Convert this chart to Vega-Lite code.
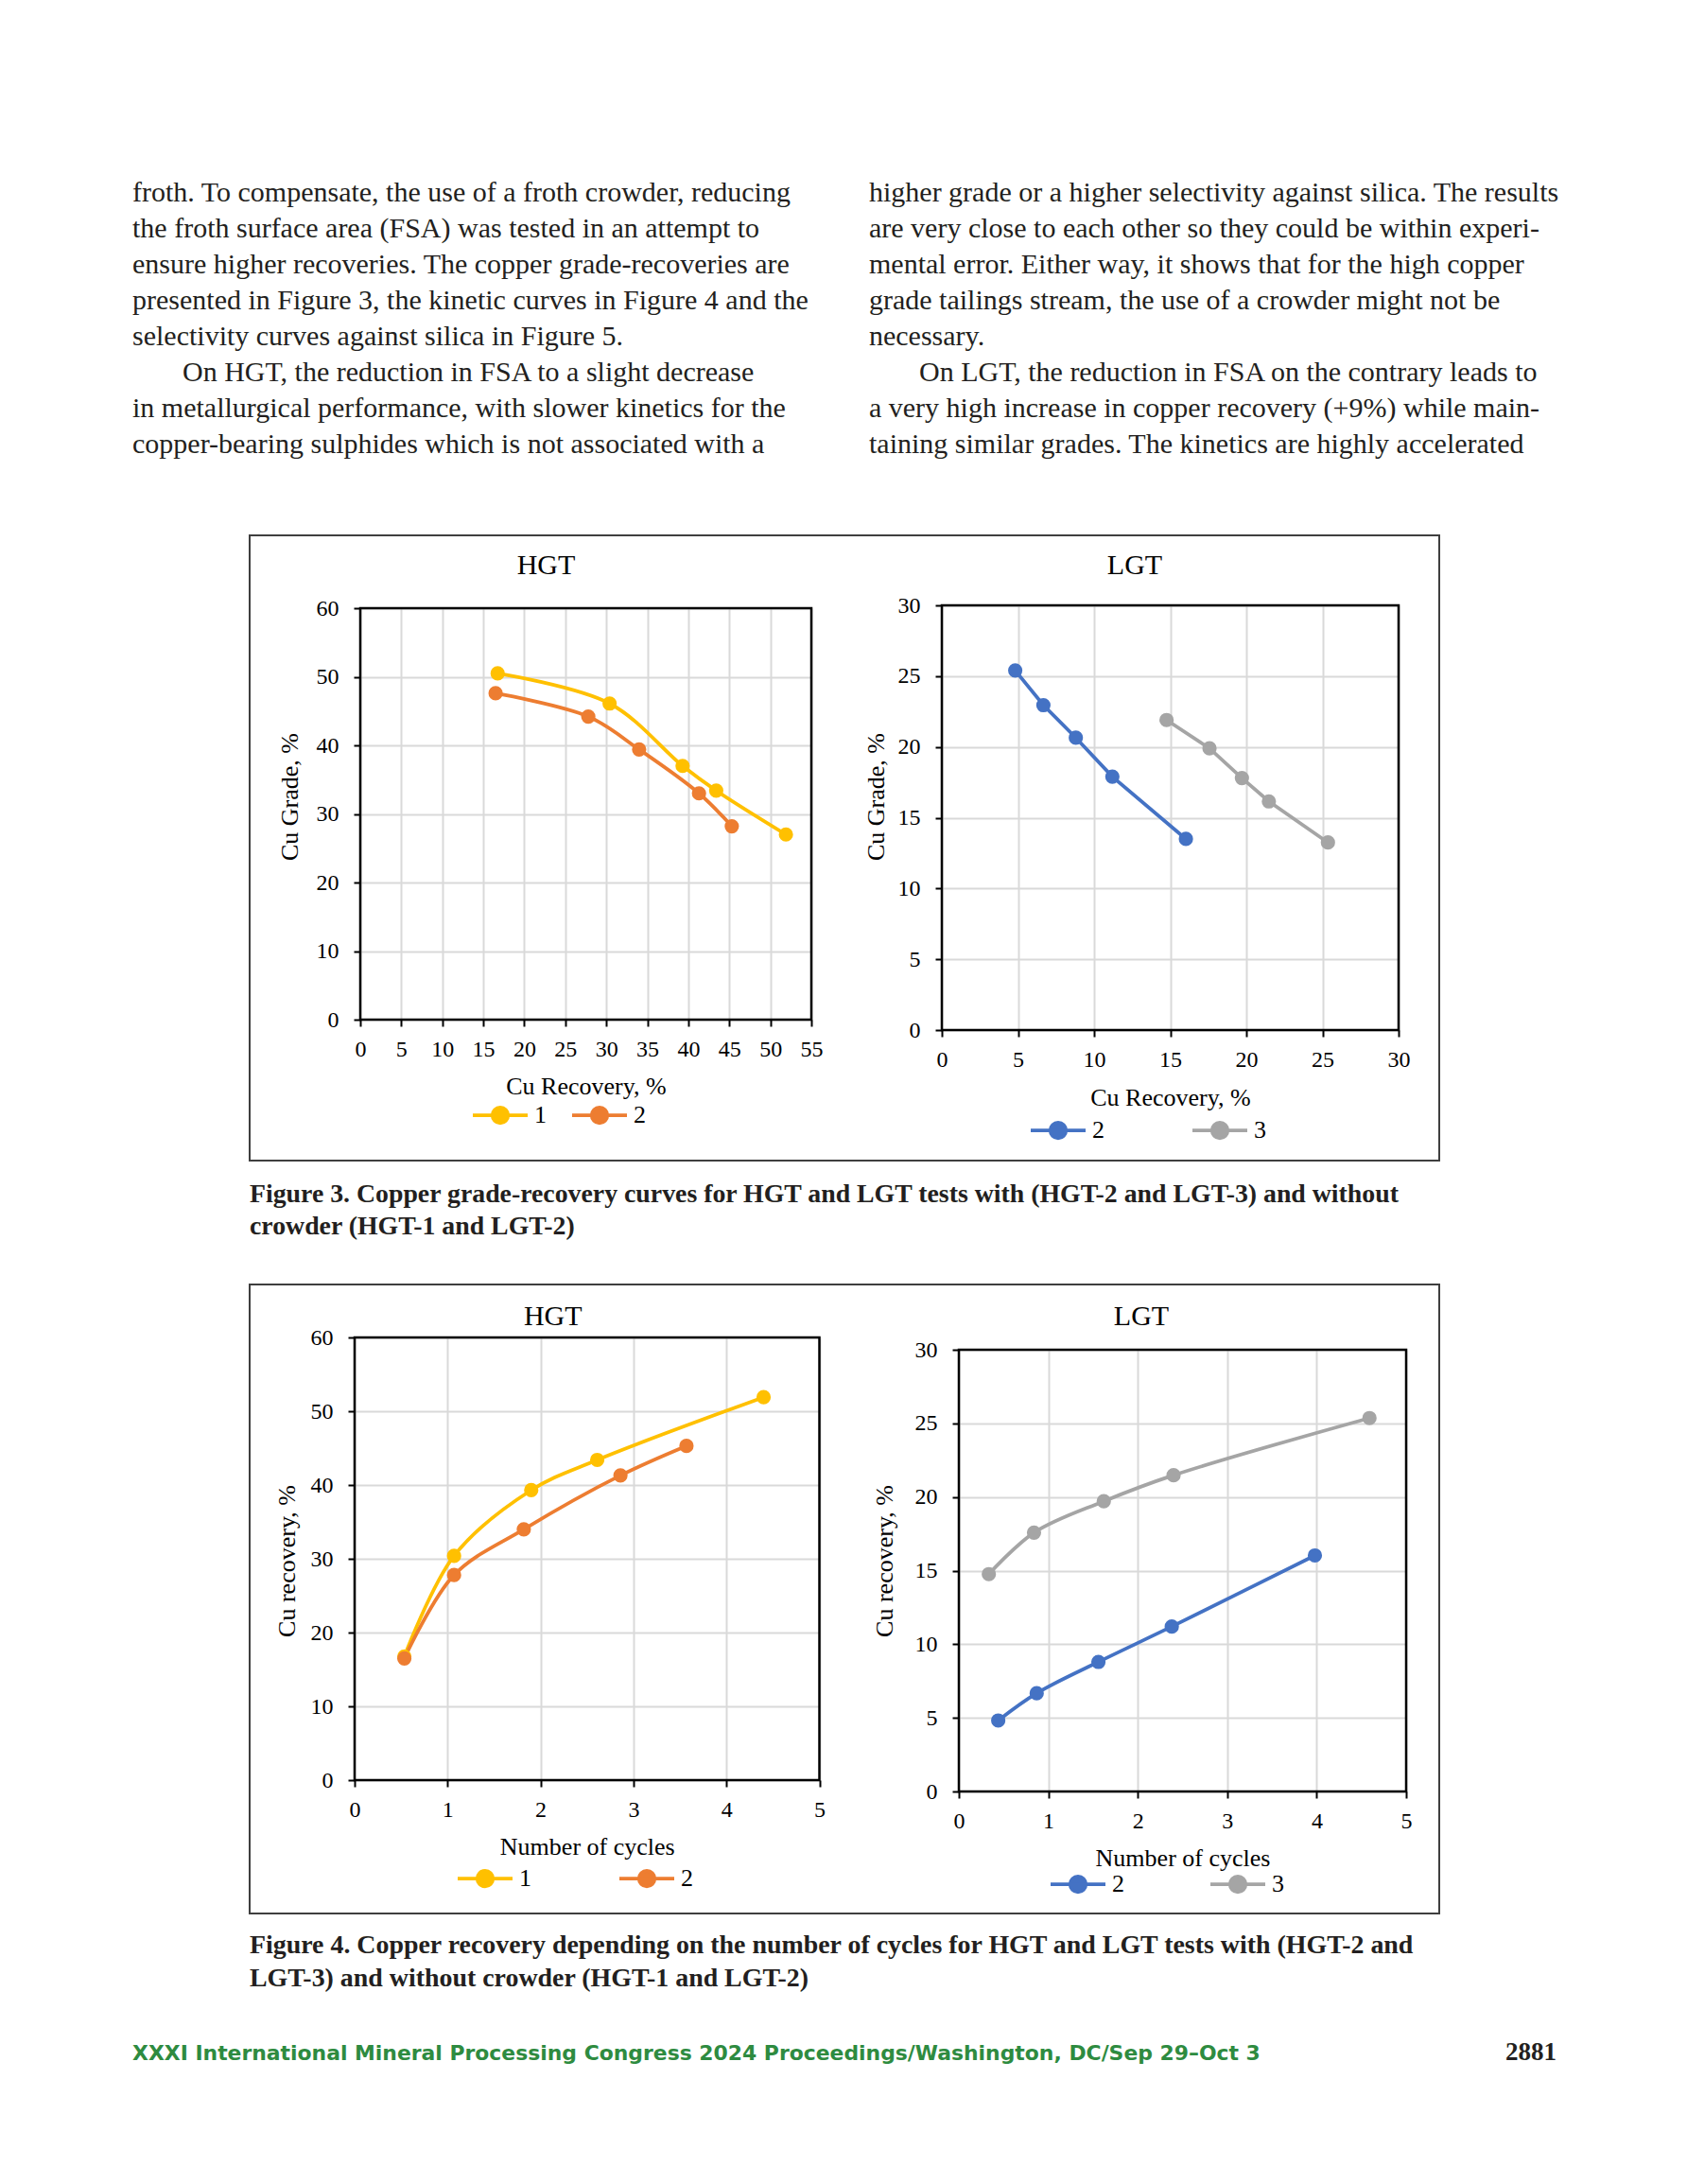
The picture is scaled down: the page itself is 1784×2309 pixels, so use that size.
{
  "$schema": "https://vega.github.io/schema/vega-lite/v6.json",
  "background": "white",
  "padding": {"left": 140, "top": 156, "right": 138, "bottom": 109},
  "bounds": "flush",
  "center": true,
  "spacing": 0,
  "config": {
    "view": {"stroke": null},
    "font": "Liberation Serif",
    "axis": {"labelFont": "Liberation Serif", "labelFontSize": 24, "labelColor": "#000", "titleFont": "Liberation Serif", "titleFontSize": 26, "titleFontWeight": "normal", "titleColor": "#000", "tickColor": "#000", "tickWidth": 2, "tickSize": 7, "domain": false, "gridColor": "#d9d9d9", "gridWidth": 2, "labelFlush": false, "labelOverlap": false, "labelBound": false, "titleBaseline": "middle"},
    "legend": {"orient": "none", "direction": "horizontal", "title": null, "padding": 0, "symbolType": "M-1,0L1,0M-0.286,0A0.286,0.286,0,1,0,0.286,0A0.286,0.286,0,1,0,-0.286,0Z", "symbolSize": 3364, "symbolStrokeWidth": 3.75, "labelFont": "Liberation Serif", "labelFontSize": 26, "labelColor": "#000", "labelOffset": 5}
  },
  "vconcat": [
    {
      "width": 1506,
      "height": 410,
      "data": {"values": [
        {"column": "left", "line": 1, "indent": 0, "text": "froth. To compensate, the use of a froth crowder, reducing"},
        {"column": "left", "line": 2, "indent": 0, "text": "the froth surface area (FSA) was tested in an attempt to"},
        {"column": "left", "line": 3, "indent": 0, "text": "ensure higher recoveries. The copper grade-recoveries are"},
        {"column": "left", "line": 4, "indent": 0, "text": "presented in Figure 3, the kinetic curves in Figure 4 and the"},
        {"column": "left", "line": 5, "indent": 0, "text": "selectivity curves against silica in Figure 5."},
        {"column": "left", "line": 6, "indent": 1, "text": "On HGT, the reduction in FSA to a slight decrease"},
        {"column": "left", "line": 7, "indent": 0, "text": "in metallurgical performance, with slower kinetics for the"},
        {"column": "left", "line": 8, "indent": 0, "text": "copper-bearing sulphides which is not associated with a"},
        {"column": "right", "line": 1, "indent": 0, "text": "higher grade or a higher selectivity against silica. The results"},
        {"column": "right", "line": 2, "indent": 0, "text": "are very close to each other so they could be within experi-"},
        {"column": "right", "line": 3, "indent": 0, "text": "mental error. Either way, it shows that for the high copper"},
        {"column": "right", "line": 4, "indent": 0, "text": "grade tailings stream, the use of a crowder might not be"},
        {"column": "right", "line": 5, "indent": 0, "text": "necessary."},
        {"column": "right", "line": 6, "indent": 1, "text": "On LGT, the reduction in FSA on the contrary leads to"},
        {"column": "right", "line": 7, "indent": 0, "text": "a very high increase in copper recovery (+9%) while main-"},
        {"column": "right", "line": 8, "indent": 0, "text": "taining similar grades. The kinetics are highly accelerated"}
      ]},
      "encoding": {
        "x": {"field": "column", "type": "nominal", "bandPosition": 0, "scale": {"type": "band", "domain": ["left", "right"], "paddingInner": 0.0667, "paddingOuter": 0}, "axis": null},
        "y": {"field": "line", "type": "quantitative", "scale": {"domain": [-0.5, 10.289], "reverse": true, "nice": false, "zero": false}, "axis": null},
        "text": {"field": "text"}
      },
      "layer": [
        {"transform": [{"filter": "datum.indent === 0"}],
         "mark": {"type": "text", "align": "left", "baseline": "alphabetic", "font": "Liberation Serif", "fontSize": 30, "color": "#231f20"}},
        {"transform": [{"filter": "datum.indent === 1"}],
         "mark": {"type": "text", "align": "left", "baseline": "alphabetic", "font": "Liberation Serif", "fontSize": 30, "color": "#231f20", "dx": 53}}
      ]
    },
    {
      "width": 1258,
      "height": 661,
      "view": {"stroke": "#3f3f3f", "strokeWidth": 2},
      "layer": [
        {
          "data": {"values": [
            {"series": "1", "recovery": 16.75, "grade": 50.5},
            {"series": "1", "recovery": 30.4, "grade": 46.1},
            {"series": "1", "recovery": 39.3, "grade": 37.0},
            {"series": "1", "recovery": 43.4, "grade": 33.4},
            {"series": "1", "recovery": 51.9, "grade": 27.0},
            {"series": "2", "recovery": 16.5, "grade": 47.6},
            {"series": "2", "recovery": 27.8, "grade": 44.2},
            {"series": "2", "recovery": 34.0, "grade": 39.4},
            {"series": "2", "recovery": 41.3, "grade": 33.0},
            {"series": "2", "recovery": 45.3, "grade": 28.2}
          ]},
          "layer": [
            {"mark": {"type": "line", "interpolate": "catmull-rom", "strokeWidth": 3.75},
             "encoding": {
               "x": {"field": "recovery", "type": "quantitative", "scale": {"domain": [0, 55], "range": [117, 594], "nice": false, "zero": false},
                     "axis": {"orient": "bottom", "offset": -149, "values": [0, 5, 10, 15, 20, 25, 30, 35, 40, 45, 50, 55], "title": "Cu Recovery, %", "titleY": 70, "grid": false, "labelPadding": 12, "labelFont": "Liberation Serif", "labelFontSize": 24, "labelColor": "#000"}},
               "y": {"field": "grade", "type": "quantitative", "scale": {"domain": [0, 60], "range": [512, 77], "nice": false, "zero": false},
                     "axis": {"orient": "left", "offset": -117, "values": [0, 10, 20, 30, 40, 50, 60], "title": "Cu Grade, %", "titleX": -75, "titleY": 276, "grid": true, "labelPadding": 16, "labelFont": "Liberation Serif", "labelFontSize": 24, "labelColor": "#000"}},
               "color": {"field": "series", "type": "nominal", "scale": {"domain": ["1", "2"], "range": ["#FFC000", "#ED7D31"]},
                 "legend": {"legendX": 234, "legendY": 582, "columnPadding": 19,
                   "encode": {"symbols": {"update": {"fill": {"signal": "datum.value === '1' ? '#FFC000' : '#ED7D31'"}, "stroke": {"signal": "datum.value === '1' ? '#FFC000' : '#ED7D31'"}, "strokeWidth": {"value": 3.75}, "opacity": {"value": 1}}}}}}}},
            {"mark": {"type": "point", "filled": true, "size": 230, "opacity": 1},
             "encoding": {
               "x": {"field": "recovery", "type": "quantitative", "axis": null},
               "y": {"field": "grade", "type": "quantitative", "axis": null},
               "color": {"field": "series", "type": "nominal"}}},
            {"data": {"values": [{"label": "HGT"}]},
             "mark": {"type": "text", "font": "Liberation Serif", "fontSize": 30, "align": "center", "baseline": "middle", "dx": -42, "dy": -45, "color": "#000"},
             "encoding": {"x": {"datum": 27.5, "axis": null}, "y": {"datum": 60, "axis": null}, "text": {"field": "label"}}},
            {"data": {"values": [{"border": "plot"}]},
             "mark": {"type": "rect", "fill": "transparent", "stroke": "#000", "strokeWidth": 2.5},
             "encoding": {
               "x": {"datum": 0, "axis": {"orient": "top", "offset": -77, "values": [0, 5, 10, 15, 20, 25, 30, 35, 40, 45, 50, 55], "grid": true, "labels": false, "ticks": false, "domain": false, "title": null}},
               "x2": {"datum": 55},
               "y": {"datum": 0, "axis": null},
               "y2": {"datum": 60}}}
          ],
          "resolve": {"axis": {"x": "independent", "y": "independent"}}
        },
        {
          "data": {"values": [
            {"series": "2", "recovery": 4.82, "grade": 25.4},
            {"series": "2", "recovery": 6.67, "grade": 22.95},
            {"series": "2", "recovery": 8.8, "grade": 20.65},
            {"series": "2", "recovery": 11.2, "grade": 17.9},
            {"series": "2", "recovery": 16.03, "grade": 13.5},
            {"series": "3", "recovery": 14.76, "grade": 21.9},
            {"series": "3", "recovery": 17.58, "grade": 19.9},
            {"series": "3", "recovery": 19.71, "grade": 17.8},
            {"series": "3", "recovery": 21.48, "grade": 16.15},
            {"series": "3", "recovery": 25.36, "grade": 13.25}
          ]},
          "layer": [
            {"mark": {"type": "line", "strokeWidth": 3.75},
             "encoding": {
               "x": {"field": "recovery", "type": "quantitative", "scale": {"domain": [0, 30], "range": [732, 1215], "nice": false, "zero": false},
                     "axis": {"orient": "bottom", "offset": -138, "values": [0, 5, 10, 15, 20, 25, 30], "title": "Cu Recovery, %", "titleY": 71, "grid": false, "labelPadding": 12, "labelFont": "Liberation Serif", "labelFontSize": 24, "labelColor": "#000"}},
               "y": {"field": "grade", "type": "quantitative", "scale": {"domain": [0, 30], "range": [523, 74], "nice": false, "zero": false},
                     "axis": {"orient": "left", "offset": -732, "values": [0, 5, 10, 15, 20, 25, 30], "title": "Cu Grade, %", "titleX": -70, "titleY": 276, "grid": true, "labelPadding": 16, "labelFont": "Liberation Serif", "labelFontSize": 24, "labelColor": "#000"}},
               "color": {"field": "series", "type": "nominal", "scale": {"domain": ["2", "3"], "range": ["#4472C4", "#A5A5A5"]},
                 "legend": {"legendX": 824, "legendY": 598, "columnPadding": 85,
                   "encode": {"symbols": {"update": {"fill": {"signal": "datum.value === '2' ? '#4472C4' : '#A5A5A5'"}, "stroke": {"signal": "datum.value === '2' ? '#4472C4' : '#A5A5A5'"}, "strokeWidth": {"value": 3.75}, "opacity": {"value": 1}}}}}}}},
            {"mark": {"type": "point", "filled": true, "size": 230, "opacity": 1},
             "encoding": {
               "x": {"field": "recovery", "type": "quantitative", "axis": null},
               "y": {"field": "grade", "type": "quantitative", "axis": null},
               "color": {"field": "series", "type": "nominal"}}},
            {"data": {"values": [{"label": "LGT"}]},
             "mark": {"type": "text", "font": "Liberation Serif", "fontSize": 30, "align": "center", "baseline": "middle", "dx": -37.5, "dy": -42, "color": "#000"},
             "encoding": {"x": {"datum": 15, "axis": null}, "y": {"datum": 30, "axis": null}, "text": {"field": "label"}}},
            {"data": {"values": [{"border": "plot"}]},
             "mark": {"type": "rect", "fill": "transparent", "stroke": "#000", "strokeWidth": 2.5},
             "encoding": {
               "x": {"datum": 0, "axis": {"orient": "top", "offset": -74, "values": [0, 5, 10, 15, 20, 25, 30], "grid": true, "labels": false, "ticks": false, "domain": false, "title": null}},
               "x2": {"datum": 30},
               "y": {"datum": 0, "axis": null},
               "y2": {"datum": 30}}}
          ],
          "resolve": {"axis": {"x": "independent", "y": "independent"}}
        }
      ],
      "resolve": {"scale": {"x": "independent", "y": "independent", "color": "independent"}, "axis": {"x": "independent", "y": "independent"}, "legend": {"color": "independent"}}
    },
    {
      "width": 1258,
      "height": 131,
      "data": {"values": [
        {"line": 1, "text": "Figure 3. Copper grade-recovery curves for HGT and LGT tests with (HGT-2 and LGT-3) and without"},
        {"line": 2, "text": "crowder (HGT-1 and LGT-2)"}
      ]},
      "mark": {"type": "text", "align": "left", "baseline": "alphabetic", "font": "Liberation Serif", "fontSize": 27.8, "fontWeight": "bold", "color": "#231f20"},
      "encoding": {
        "x": {"datum": 0, "type": "quantitative", "scale": {"domain": [0, 1], "nice": false}, "axis": null},
        "y": {"field": "line", "type": "quantitative", "scale": {"domain": [-0.294, 3.559], "reverse": true, "nice": false, "zero": false}, "axis": null},
        "text": {"field": "text"}
      }
    },
    {
      "width": 1258,
      "height": 665,
      "view": {"stroke": "#3f3f3f", "strokeWidth": 2},
      "layer": [
        {
          "data": {"values": [
            {"series": "1", "cycles": 0.535, "recovery": 16.75},
            {"series": "1", "cycles": 1.07, "recovery": 30.4},
            {"series": "1", "cycles": 1.9, "recovery": 39.3},
            {"series": "1", "cycles": 2.61, "recovery": 43.4},
            {"series": "1", "cycles": 4.4, "recovery": 51.9},
            {"series": "2", "cycles": 0.535, "recovery": 16.5},
            {"series": "2", "cycles": 1.07, "recovery": 27.8},
            {"series": "2", "cycles": 1.82, "recovery": 34.0},
            {"series": "2", "cycles": 2.86, "recovery": 41.3},
            {"series": "2", "cycles": 3.57, "recovery": 45.3}
          ]},
          "layer": [
            {"mark": {"type": "line", "interpolate": "catmull-rom", "strokeWidth": 3.75},
             "encoding": {
               "x": {"field": "cycles", "type": "quantitative", "scale": {"domain": [0, 5], "range": [111, 602.5], "nice": false, "zero": false},
                     "axis": {"orient": "bottom", "offset": -141, "values": [0, 1, 2, 3, 4, 5], "title": "Number of cycles", "titleY": 70, "grid": false, "labelPadding": 12, "labelFont": "Liberation Serif", "labelFontSize": 24, "labelColor": "#000"}},
               "y": {"field": "recovery", "type": "quantitative", "scale": {"domain": [0, 60], "range": [524, 56], "nice": false, "zero": false},
                     "axis": {"orient": "left", "offset": -111, "values": [0, 10, 20, 30, 40, 50, 60], "title": "Cu recovery, %", "titleX": -72, "titleY": 292, "grid": true, "labelPadding": 16, "labelFont": "Liberation Serif", "labelFontSize": 24, "labelColor": "#000"}},
               "color": {"field": "series", "type": "nominal", "scale": {"domain": ["1", "2"], "range": ["#FFC000", "#ED7D31"]},
                 "legend": {"legendX": 218, "legendY": 597, "columnPadding": 85,
                   "encode": {"symbols": {"update": {"fill": {"signal": "datum.value === '1' ? '#FFC000' : '#ED7D31'"}, "stroke": {"signal": "datum.value === '1' ? '#FFC000' : '#ED7D31'"}, "strokeWidth": {"value": 3.75}, "opacity": {"value": 1}}}}}}}},
            {"mark": {"type": "point", "filled": true, "size": 230, "opacity": 1},
             "encoding": {
               "x": {"field": "cycles", "type": "quantitative", "axis": null},
               "y": {"field": "recovery", "type": "quantitative", "axis": null},
               "color": {"field": "series", "type": "nominal"}}},
            {"data": {"values": [{"label": "HGT"}]},
             "mark": {"type": "text", "font": "Liberation Serif", "fontSize": 30, "align": "center", "baseline": "middle", "dx": -36, "dy": -22, "color": "#000"},
             "encoding": {"x": {"datum": 2.5, "axis": null}, "y": {"datum": 60, "axis": null}, "text": {"field": "label"}}},
            {"data": {"values": [{"border": "plot"}]},
             "mark": {"type": "rect", "fill": "transparent", "stroke": "#000", "strokeWidth": 2.5},
             "encoding": {
               "x": {"datum": 0, "axis": {"orient": "top", "offset": -56, "values": [0, 1, 2, 3, 4, 5], "grid": true, "labels": false, "ticks": false, "domain": false, "title": null}},
               "x2": {"datum": 5},
               "y": {"datum": 0, "axis": null},
               "y2": {"datum": 60}}}
          ],
          "resolve": {"axis": {"x": "independent", "y": "independent"}}
        },
        {
          "data": {"values": [
            {"series": "2", "cycles": 0.44, "recovery": 4.82},
            {"series": "2", "cycles": 0.87, "recovery": 6.67},
            {"series": "2", "cycles": 1.56, "recovery": 8.8},
            {"series": "2", "cycles": 2.38, "recovery": 11.2},
            {"series": "2", "cycles": 3.98, "recovery": 16.03},
            {"series": "3", "cycles": 0.335, "recovery": 14.76},
            {"series": "3", "cycles": 0.84, "recovery": 17.58},
            {"series": "3", "cycles": 1.62, "recovery": 19.71},
            {"series": "3", "cycles": 2.4, "recovery": 21.48},
            {"series": "3", "cycles": 4.59, "recovery": 25.36}
          ]},
          "layer": [
            {"mark": {"type": "line", "interpolate": "catmull-rom", "strokeWidth": 3.75},
             "encoding": {
               "x": {"field": "cycles", "type": "quantitative", "scale": {"domain": [0, 5], "range": [750, 1223], "nice": false, "zero": false},
                     "axis": {"orient": "bottom", "offset": -129, "values": [0, 1, 2, 3, 4, 5], "title": "Number of cycles", "titleY": 70, "grid": false, "labelPadding": 12, "labelFont": "Liberation Serif", "labelFontSize": 24, "labelColor": "#000"}},
               "y": {"field": "recovery", "type": "quantitative", "scale": {"domain": [0, 30], "range": [536, 69], "nice": false, "zero": false},
                     "axis": {"orient": "left", "offset": -750, "values": [0, 5, 10, 15, 20, 25, 30], "title": "Cu recovery, %", "titleX": -79, "titleY": 292, "grid": true, "labelPadding": 16, "labelFont": "Liberation Serif", "labelFontSize": 24, "labelColor": "#000"}},
               "color": {"field": "series", "type": "nominal", "scale": {"domain": ["2", "3"], "range": ["#4472C4", "#A5A5A5"]},
                 "legend": {"legendX": 845, "legendY": 603, "columnPadding": 83,
                   "encode": {"symbols": {"update": {"fill": {"signal": "datum.value === '2' ? '#4472C4' : '#A5A5A5'"}, "stroke": {"signal": "datum.value === '2' ? '#4472C4' : '#A5A5A5'"}, "strokeWidth": {"value": 3.75}, "opacity": {"value": 1}}}}}}}},
            {"mark": {"type": "point", "filled": true, "size": 230, "opacity": 1},
             "encoding": {
               "x": {"field": "cycles", "type": "quantitative", "axis": null},
               "y": {"field": "recovery", "type": "quantitative", "axis": null},
               "color": {"field": "series", "type": "nominal"}}},
            {"data": {"values": [{"label": "LGT"}]},
             "mark": {"type": "text", "font": "Liberation Serif", "fontSize": 30, "align": "center", "baseline": "middle", "dx": -43.5, "dy": -35, "color": "#000"},
             "encoding": {"x": {"datum": 2.5, "axis": null}, "y": {"datum": 30, "axis": null}, "text": {"field": "label"}}},
            {"data": {"values": [{"border": "plot"}]},
             "mark": {"type": "rect", "fill": "transparent", "stroke": "#000", "strokeWidth": 2.5},
             "encoding": {
               "x": {"datum": 0, "axis": {"orient": "top", "offset": -69, "values": [0, 1, 2, 3, 4, 5], "grid": true, "labels": false, "ticks": false, "domain": false, "title": null}},
               "x2": {"datum": 5},
               "y": {"datum": 0, "axis": null},
               "y2": {"datum": 30}}}
          ],
          "resolve": {"axis": {"x": "independent", "y": "independent"}}
        }
      ],
      "resolve": {"scale": {"x": "independent", "y": "independent", "color": "independent"}, "axis": {"x": "independent", "y": "independent"}, "legend": {"color": "independent"}}
    },
    {
      "width": 1258,
      "height": 117,
      "data": {"values": [
        {"line": 1, "text": "Figure 4. Copper recovery depending on the number of cycles for HGT and LGT tests with (HGT-2 and"},
        {"line": 2, "text": "LGT-3) and without crowder (HGT-1 and LGT-2)"}
      ]},
      "mark": {"type": "text", "align": "left", "baseline": "alphabetic", "font": "Liberation Serif", "fontSize": 27.9, "fontWeight": "bold", "color": "#231f20"},
      "encoding": {
        "x": {"datum": 0, "type": "quantitative", "scale": {"domain": [0, 1], "nice": false}, "axis": null},
        "y": {"field": "line", "type": "quantitative", "scale": {"domain": [-0.2, 3.143], "reverse": true, "nice": false, "zero": false}, "axis": null},
        "text": {"field": "text"}
      }
    },
    {
      "width": 1506,
      "height": 60,
      "data": {"values": [
        {"part": "conference", "line": 1, "text": "XXXI International Mineral Processing Congress 2024 Proceedings/Washington, DC/Sep 29–Oct 3"},
        {"part": "page", "line": 1, "text": "2881"}
      ]},
      "encoding": {
        "y": {"field": "line", "type": "quantitative", "scale": {"domain": [0, 1.579], "reverse": true, "nice": false, "zero": false}, "axis": null},
        "text": {"field": "text"}
      },
      "layer": [
        {"transform": [{"filter": "datum.part === 'conference'"}],
         "mark": {"type": "text", "align": "left", "baseline": "alphabetic", "font": "DejaVu Sans", "fontSize": 21.9, "fontWeight": "bold", "color": "#2e8b40"},
         "encoding": {"x": {"datum": 0, "type": "quantitative", "scale": {"domain": [0, 1], "nice": false}, "axis": null}}},
        {"transform": [{"filter": "datum.part === 'page'"}],
         "mark": {"type": "text", "align": "right", "baseline": "alphabetic", "font": "Liberation Serif", "fontSize": 27, "fontWeight": "bold", "color": "#231f20"},
         "encoding": {"x": {"datum": 1, "type": "quantitative", "scale": {"domain": [0, 1], "nice": false}, "axis": null}}}
      ]
    }
  ]
}
